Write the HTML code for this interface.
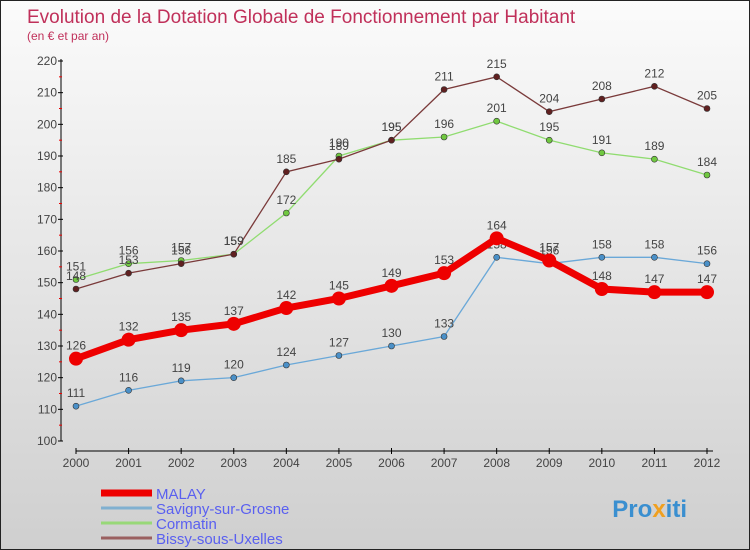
<!DOCTYPE html>
<html><head><meta charset="utf-8"><style>
body{margin:0}
#c{width:750px;height:550px;position:relative;overflow:hidden;box-sizing:border-box;border:1px solid #222;background:linear-gradient(#fbfbfb,#cfcfcf);font-family:"Liberation Sans",sans-serif}
</style></head><body>
<div id="c">
<svg id="s" width="750" height="550" style="position:absolute;left:0;top:0" font-family="Liberation Sans, sans-serif">
<text x="26" y="22" font-size="19" fill="#c0305a">Evolution de la Dotation Globale de Fonctionnement par Habitant</text>
<text x="26" y="39" font-size="12" fill="#c0305a">(en € et par an)</text>
<g id="g"></g>
<text x="686" y="516" font-size="24" font-weight="bold" text-anchor="end" fill="#3a8fd0">Pro<tspan fill="#f0a020">x</tspan>iti</text>
</svg>
</div>
<script>
const years=[2000,2001,2002,2003,2004,2005,2006,2007,2008,2009,2010,2011,2012];
const yTicks=[100,110,120,130,140,150,160,170,180,190,200,210,220];
const malay=[126,132,135,137,142,145,149,153,164,157,148,147,147];
const savigny=[111,116,119,120,124,127,130,133,158,156,158,158,156];
const cormatin=[151,156,157,159,172,190,195,196,201,195,191,189,184];
const bissy=[148,153,156,159,185,189,195,211,215,204,208,212,205];
const NS="http://www.w3.org/2000/svg";
const g=document.getElementById('g');
const X=i=>75+i*(706-75)/12;
const Y=v=>440-(v-100)*380/120;
function el(t,a){const e=document.createElementNS(NS,t);for(const k in a)e.setAttribute(k,a[k]);g.appendChild(e);return e;}
let e;
e=el('line',{x1:60,y1:58,x2:60,y2:440,stroke:'#000'});


e=el('line',{x1:75,y1:450,x2:712,y2:450,stroke:'#000'});


yTicks.forEach(v=>{
 el('line',{x1:57,x2:62,y1:Y(v),y2:Y(v),stroke:'#000'});
 if(v<220)el('line',{x1:58,x2:61,y1:Y(v+5),y2:Y(v+5),stroke:'#e00'});
 e=el('text',{x:56,y:Y(v)+4,'font-size':12,'text-anchor':'end',fill:'#444'});e.textContent=v;
 
 
});
years.forEach((y,i)=>{
 el('line',{x1:X(i),x2:X(i),y1:447,y2:453,stroke:'#000'});
 e=el('text',{x:X(i),y:466,'font-size':12,'text-anchor':'middle',fill:'#444'});e.textContent=y;
 
 
});
function series(d,col,w,r,name,fill){
 const p=el('polyline',{points:d.map((v,i)=>X(i)+','+Y(v)).join(' '),fill:'none',stroke:col,'stroke-width':w});
 
 
 d.forEach((v,i)=>{
  const c=el('circle',{cx:X(i),cy:Y(v),r:r,fill:fill,stroke:'#333','stroke-width':r>4?0:0.6});
  
  
  const t=el('text',{x:X(i),y:Y(v)-9,'font-size':12,'text-anchor':'middle',fill:'#444'});t.textContent=v;
  
  
 });
}
series(savigny,'#6aa8d8',1.3,3,'savigny','#4a90c8');
series(cormatin,'#90dc70',1.3,3,'cormatin','#70c840');
series(bissy,'#7a3a3a',1.3,3,'bissy','#602020');
series(malay,'#ee0000',7,7,'malay','#ee0000');
const leg=[['MALAY','#ee0000',7],['Savigny-sur-Grosne','#80b0d0',3],['Cormatin','#98d878',3],['Bissy-sous-Uxelles','#9a6060',3]];
leg.forEach((l,i)=>{
 const y=492+i*15;
 e=el('line',{x1:100,x2:151,y1:y,y2:y,stroke:l[1],'stroke-width':l[2]});
 
 
 e=el('text',{x:155,y:y+6,'font-size':15,fill:'#5a60f0'});e.textContent=l[0];
 
 
});
</script>
</body></html>
